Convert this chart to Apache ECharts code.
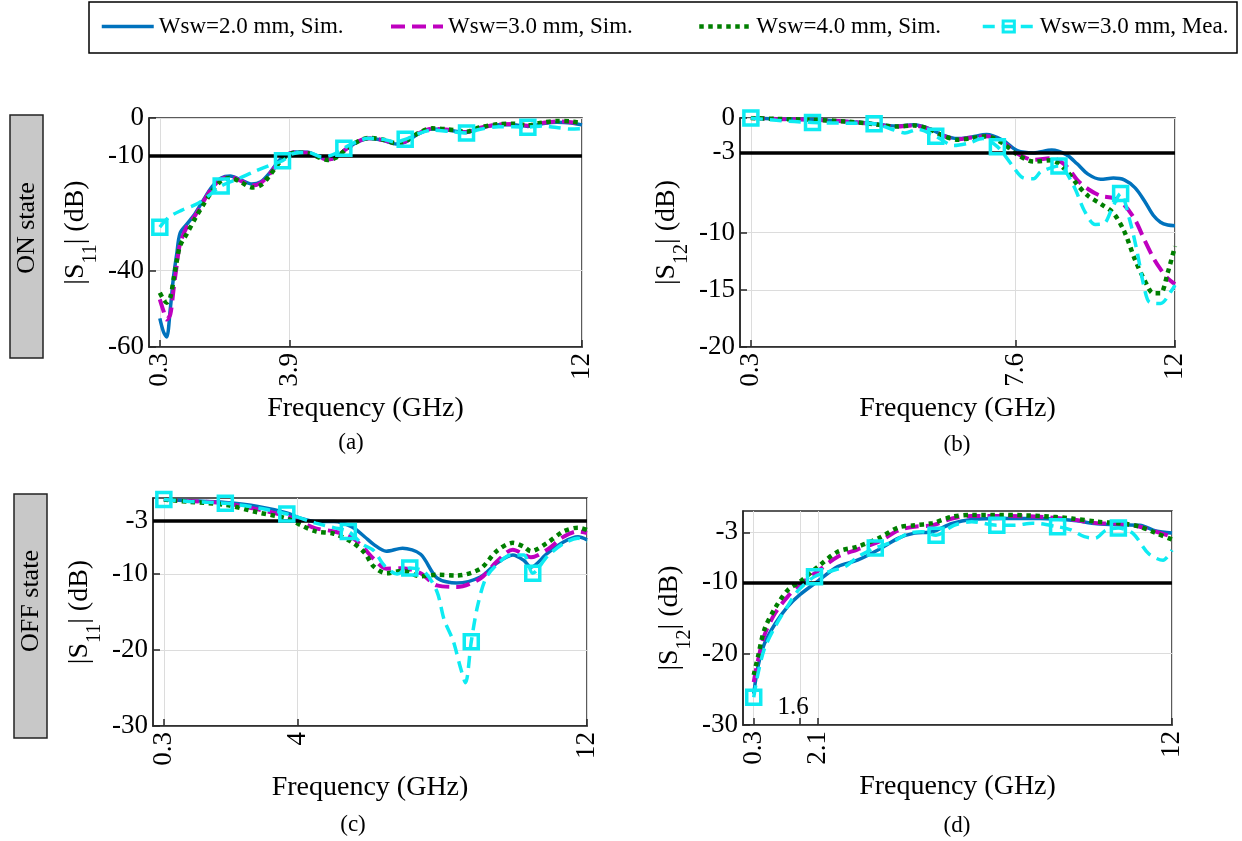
<!DOCTYPE html>
<html>
<head>
<meta charset="utf-8">
<script src="https://cdn.jsdelivr.net/npm/echarts@6/dist/echarts.min.js"></script>
<style>html,body{margin:0;padding:0;background:#fff}#c{width:1242px;height:841px}</style>
</head>
<body>
<div id="c"></div>
<script>
// ---------------- data ----------------
const SERIES_NAMES = ['Wsw=2.0 mm, Sim.', 'Wsw=3.0 mm, Sim.', 'Wsw=4.0 mm, Sim.', 'Wsw=3.0 mm, Mea.'];
const MARKER_FREQS = [0.3, 2.0, 3.7, 5.4, 7.1, 8.8, 10.5];
const X_RANGE = [0, 12];

// (a) ON state |S11|
const freqA = [0.3, 0.4, 0.49, 0.59, 0.68, 0.77, 0.86, 1.05, 1.28, 1.5, 1.75, 2.0, 2.25, 2.55, 2.85, 3.1, 3.35, 3.6, 3.8, 4.05, 4.4, 4.7, 4.95, 5.2, 5.45, 5.8, 6.1, 6.5, 6.85, 7.1, 7.5, 7.85, 8.3, 8.8, 9.15, 9.7, 10.1, 10.5, 10.9, 11.3, 11.7, 12.0];
const s11OnW2 = [-52.5, -56, -57.4, -50, -41.6, -35.5, -30.2, -27.8, -25, -21.6, -18, -15.7, -15.2, -16.2, -17.3, -16.7, -14.3, -11.2, -9.6, -8.9, -9.0, -10.1, -10.9, -10.2, -8.2, -6.2, -5.4, -5.9, -6.8, -6.3, -4.0, -2.9, -3.2, -3.8, -2.7, -1.8, -1.8, -2.2, -1.5, -1.1, -1.3, -1.8];
const s11OnW3 = [-47.5, -50.5, -52.8, -51.5, -45, -38.5, -33, -28.5, -25.5, -22, -18.3, -16, -15.4, -16.5, -17.7, -17, -14.6, -11.5, -9.8, -9.0, -9.1, -10.2, -10.9, -10.2, -8.2, -6.1, -5.3, -5.8, -6.7, -6.2, -3.9, -2.8, -3.1, -3.7, -2.6, -1.7, -1.6, -2.0, -1.3, -0.9, -1.1, -1.6];
const s11OnW4 = [-45.8, -47.5, -48.4, -47, -42.4, -37.5, -33.5, -30.3, -26.3, -22.8, -19.2, -16.5, -15.7, -16.8, -18.2, -17.6, -15, -11.8, -10, -9.1, -9.2, -10.3, -11.0, -10.3, -8.3, -6.1, -5.2, -5.7, -6.6, -6.1, -3.8, -2.7, -3.0, -3.6, -2.5, -1.6, -1.5, -1.9, -1.2, -0.8, -0.9, -1.4];
const freqAMea = [0.3, 0.55, 0.9, 1.35, 1.7, 2.0, 2.5, 2.95, 3.35, 3.7, 4.0, 4.4, 4.8, 5.1, 5.4, 5.8, 6.1, 6.5, 6.85, 7.1, 7.5, 7.85, 8.3, 8.8, 9.15, 9.7, 10.1, 10.5, 10.9, 11.3, 11.7, 12.0];
const s11OnMea = [-28.6, -26, -24.2, -22.4, -20, -17.8, -15.8, -13.9, -12.4, -11.2, -9.3, -9.0, -10.2, -9.6, -7.9, -6.0, -5.3, -5.6, -6.3, -5.6, -4.0, -3.2, -3.5, -3.9, -3.0, -2.3, -2.3, -2.4, -2.1, -2.5, -2.9, -2.8];
const xTicksA = [0.3, 3.9, 12];
const yTicksA = [-60, -40, -10, 0];
const yRangeA = [-60, 0];
const thrA = -10;

// (b) ON state |S12|
const freqB = [0.3, 1.0, 2.0, 2.9, 3.6, 4.3, 4.8, 5.2, 5.6, 6.0, 6.4, 6.8, 7.25, 7.65, 8.1, 8.6, 9.0, 9.3, 9.6, 9.95, 10.3, 10.6, 10.9, 11.15, 11.4, 11.6, 11.8, 12.0];
const s12OnW2 = [0, -0.08, -0.15, -0.3, -0.45, -0.7, -0.6, -0.9, -1.5, -1.8, -1.65, -1.45, -1.95, -2.85, -3.05, -2.8, -3.2, -4.0, -4.9, -5.35, -5.25, -5.4, -6.1, -7.2, -8.5, -9.1, -9.35, -9.4];
const s12OnW3 = [0, -0.08, -0.15, -0.3, -0.5, -0.75, -0.65, -0.95, -1.55, -1.85, -1.7, -1.6, -2.1, -3.1, -3.65, -3.5, -4.2, -5.4, -6.2, -6.8, -7.0, -7.6, -8.9, -10.6, -12.2, -13.2, -14.0, -14.5];
const s12OnW4 = [0, -0.08, -0.15, -0.3, -0.5, -0.75, -0.65, -0.95, -1.55, -1.9, -1.75, -1.6, -2.2, -3.2, -3.8, -3.7, -4.6, -5.8, -6.8, -7.5, -8.3, -9.9, -12.4, -14.1, -15.3, -15.3, -13.5, -11.2];
const freqBMea = [0.3, 1.0, 2.0, 2.9, 3.7, 4.2, 4.55, 4.9, 5.4, 5.9, 6.3, 6.7, 7.1, 7.5, 7.8, 8.1, 8.3, 8.8, 9.2, 9.5, 9.8, 10.05, 10.25, 10.5, 10.75, 10.95, 11.15, 11.3, 11.6, 11.9, 12.0];
const s12OnMea = [0, -0.2, -0.4, -0.45, -0.5, -1.0, -1.3, -1.0, -1.6, -2.4, -2.2, -1.8, -2.5, -4.1, -5.2, -5.3, -4.7, -4.2, -5.9, -8.1, -9.3, -9.2, -8.0, -6.6, -8.9, -11.6, -14.8, -16.1, -16.2, -15.1, -14.6];
const xTicksB = [0.3, 7.6, 12];
const yTicksB = [-20, -15, -10, -3, 0];
const yRangeB = [-20, 0];
const thrB = -3;

// (c) OFF state |S11|
const freqC = [0.3, 1.0, 2.0, 2.9, 3.7, 4.1, 4.5, 5.0, 5.5, 5.85, 6.1, 6.45, 6.9, 7.4, 7.85, 8.4, 9.05, 9.5, 9.95, 10.25, 10.45, 10.9, 11.35, 11.75, 12.0];
const s11OffW2 = [-0.2, -0.35, -0.6, -1.1, -1.95, -2.7, -3.1, -3.1, -3.8, -5.1, -6.1, -7.0, -6.6, -7.4, -10.5, -11.2, -10.4, -8.6, -7.5, -8.2, -9.1, -7.3, -5.8, -5.1, -5.5];
const s11OffW3 = [-0.2, -0.4, -0.7, -1.5, -2.4, -3.2, -4.0, -4.4, -5.2, -6.7, -8.0, -9.3, -9.25, -9.9, -11.5, -11.7, -10.6, -8.4, -6.8, -7.4, -7.8, -6.8, -5.1, -4.4, -4.6];
const s11OffW4 = [-0.2, -0.5, -0.9, -1.9, -2.7, -3.6, -4.4, -4.7, -5.8, -7.2, -9.0, -9.9, -9.6, -10.3, -10.1, -10.2, -9.3, -7.0, -5.9, -6.4, -7.0, -5.9, -4.4, -3.9, -4.2];
const freqCMea = [0.3, 1.0, 2.0, 2.9, 3.7, 4.5, 5.0, 5.4, 5.8, 6.1, 6.4, 6.75, 7.1, 7.5, 7.85, 8.05, 8.3, 8.5, 8.64, 8.8, 8.97, 9.2, 9.5, 9.9, 10.25, 10.5, 10.9, 11.35, 11.75, 12.0];
const s11OffMea = [-0.2, -0.45, -0.7, -1.3, -2.1, -3.3, -3.9, -4.4, -6.1, -6.9, -8.9, -10.0, -9.2, -9.7, -12.3, -16.0, -18.8, -22.3, -24.3, -18.9, -14.3, -10.6, -8.8, -7.5, -7.5, -9.9, -7.7, -6.0, -5.3, -5.7];
const xTicksC = [0.3, 4, 12];
const yTicksC = [-30, -20, -10, -3];
const yRangeC = [-30, 0];
const thrC = -3;

// (d) OFF state |S12|
const freqD = [0.3, 0.42, 0.6, 0.9, 1.25, 1.6, 2.1, 2.65, 3.2, 3.8, 4.35, 4.8, 5.3, 5.85, 6.4, 7.3, 8.3, 9.2, 9.9, 10.6, 11.1, 11.55, 12.0];
const s12OffW2 = [-25.6, -21.8, -18.6, -15.8, -13.4, -11.7, -9.8, -7.8, -6.9, -5.4, -3.8, -3.1, -2.9, -1.75, -1.2, -1.05, -1.05, -1.3, -1.8, -1.95, -2.0, -2.8, -3.1];
const s12OffW3 = [-24.0, -20.9, -17.4, -14.3, -12.0, -10.3, -8.4, -6.4, -5.4, -4.3, -2.7, -2.2, -2.0, -1.05, -0.7, -0.7, -0.8, -1.2, -1.7, -1.8, -2.2, -2.9, -3.6];
const s12OffW4 = [-23.0, -20.4, -16.6, -13.6, -11.1, -9.9, -7.8, -5.7, -5.0, -3.8, -2.3, -2.0, -1.7, -0.8, -0.55, -0.55, -0.7, -1.05, -1.5, -1.75, -2.2, -3.1, -4.0];
const freqDMea = [0.3, 0.42, 0.6, 0.9, 1.25, 1.55, 2.0, 2.4, 2.85, 3.25, 3.7, 4.2, 4.6, 5.0, 5.4, 5.9, 6.4, 7.1, 7.6, 8.1, 8.8, 9.15, 9.55, 9.85, 10.15, 10.5, 10.9, 11.35, 11.75, 12.0];
const s12OffMea = [-26.1, -22.8, -19.3, -16.2, -13.3, -11.1, -9.2, -8.5, -7.8, -6.3, -5.2, -4.3, -3.2, -2.9, -3.4, -2.0, -1.5, -2.0, -2.0, -1.7, -2.2, -2.6, -3.6, -3.8, -2.7, -2.4, -3.1, -6.0, -6.9, -5.5];
const xTicksD = [0.3, 1.6, 2.1, 12];
const xLabelsD = [0.3, 2.1, 12];
const yTicksD = [-30, -20, -10, -3];
const yRangeD = [-30, 0];
const thrD = -10;
const annotD = { text: '1.6', at: [1.4, -27.5] };

// ---------------- style ----------------
const FONT = "'Liberation Serif', 'Times New Roman', serif";
const COLORS = ['#0072BD', '#BF00BF', '#007F00', '#0EEBF2'];
const WIDTHS = [3.5, 4, 4.5, 3.5];
const DASHES = ['solid', [14, 7], [4.5, 4.5], [12, 7]];
const AXIS_C = '#262626';
const GRID_C = '#dcdcdc';
const TXT_C = '#000';
const TICK_FS = 27;

const panels = [
  { grid: { left: 149, top: 118, width: 433, height: 229 }, freq: freqA, sims: [s11OnW2, s11OnW3, s11OnW4], mf: freqAMea, mea: s11OnMea,
    xTicks: xTicksA, xLabels: xTicksA, yTicks: yTicksA, yRange: yRangeA, thr: thrA, sub: '11' },
  { grid: { left: 740, top: 118, width: 435, height: 229 }, freq: freqB, sims: [s12OnW2, s12OnW3, s12OnW4], mf: freqBMea, mea: s12OnMea,
    xTicks: xTicksB, xLabels: xTicksB, yTicks: yTicksB, yRange: yRangeB, thr: thrB, sub: '12' },
  { grid: { left: 153, top: 498, width: 434, height: 228 }, freq: freqC, sims: [s11OffW2, s11OffW3, s11OffW4], mf: freqCMea, mea: s11OffMea,
    xTicks: xTicksC, xLabels: xTicksC, yTicks: yTicksC, yRange: yRangeC, thr: thrC, sub: '11' },
  { grid: { left: 743, top: 511, width: 429, height: 214 }, freq: freqD, sims: [s12OffW2, s12OffW3, s12OffW4], mf: freqDMea, mea: s12OffMea,
    xTicks: xTicksD, xLabels: xLabelsD, yTicks: yTicksD, yRange: yRangeD, thr: thrD, sub: '12', annot: annotD }
];

const grids = panels.map(p => Object.assign({ show: true, borderColor: AXIS_C, borderWidth: 1.5, backgroundColor: 'rgba(0,0,0,0)', containLabel: false, outerBoundsMode: 'none' }, p.grid));

const xAxes = panels.map((p, i) => ({
  gridIndex: i, type: 'value', min: X_RANGE[0], max: X_RANGE[1],
  axisLine: { show: true, onZero: false, lineStyle: { color: AXIS_C, width: 1.5 } },
  axisTick: { show: true, inside: true, length: 7, customValues: p.xTicks, lineStyle: { color: AXIS_C, width: 1.5 } },
  axisLabel: { show: true, customValues: p.xLabels, rotate: 90, margin: 6, fontFamily: FONT, fontSize: TICK_FS, color: TXT_C, hideOverlap: false, formatter: v => String(v) },
  splitLine: { show: true, lineStyle: { color: GRID_C, width: 1 } },
  minorTick: { show: false }, minorSplitLine: { show: false },
  name: 'Frequency (GHz)', nameLocation: 'middle', nameGap: 48,
  nameTextStyle: { fontFamily: FONT, fontSize: 28, color: TXT_C }
}));

const yAxes = panels.map((p, i) => ({
  gridIndex: i, type: 'value', min: p.yRange[0], max: p.yRange[1],
  axisLine: { show: true, onZero: false, lineStyle: { color: AXIS_C, width: 1.5 } },
  axisTick: { show: true, inside: true, length: 7, customValues: p.yTicks, lineStyle: { color: AXIS_C, width: 1.5 } },
  axisLabel: { show: true, customValues: p.yTicks, margin: 5, fontFamily: FONT, fontSize: TICK_FS, color: TXT_C, hideOverlap: false, formatter: v => String(v) },
  splitLine: { show: true, lineStyle: { color: GRID_C, width: 1 } },
  minorTick: { show: false }, minorSplitLine: { show: false },
  name: '{m||S}{s|' + p.sub + '}{m|| (dB)}', nameLocation: 'middle', nameRotate: 90, nameGap: 53,
  nameTextStyle: {
    fontFamily: FONT, fontSize: 28, color: TXT_C,
    rich: {
      m: { fontFamily: FONT, fontSize: 28, color: TXT_C, lineHeight: 34, verticalAlign: 'top' },
      s: { fontFamily: FONT, fontSize: 20, color: TXT_C, lineHeight: 20, verticalAlign: 'top', padding: [19, 0, 0, 0] }
    }
  }
}));

function pairs(fs, vs) { return fs.map((f, k) => [f, vs[k]]); }
function meaPairs(fs, vs) {
  return fs.map((f, k) => MARKER_FREQS.indexOf(f) >= 0 ? { value: [f, vs[k]] } : { value: [f, vs[k]], symbol: 'none' });
}

const series = [];
panels.forEach((p, i) => {
  p.sims.forEach((vals, s) => {
    const ser = {
      type: 'line', name: SERIES_NAMES[s], xAxisIndex: i, yAxisIndex: i,
      data: pairs(p.freq, vals), symbol: 'none', showSymbol: false, smooth: 0.3,
      lineStyle: { color: COLORS[s], width: WIDTHS[s], type: DASHES[s], cap: 'butt' },
      itemStyle: { color: COLORS[s] }, z: 2 + s, animation: false, silent: true
    };
    if (s === 0) {
      ser.markLine = {
        silent: true, symbol: ['none', 'none'], label: { show: false }, animation: false,
        lineStyle: { color: '#000', width: 3.5, type: 'solid' },
        emphasis: { disabled: true },
        data: [{ yAxis: p.thr }]
      };
    }
    if (s === 2 && p.annot) {
      ser.markPoint = {
        silent: true, animation: false, symbol: 'circle', symbolSize: 1,
        itemStyle: { color: 'rgba(0,0,0,0)' },
        label: { show: true, position: 'inside', formatter: p.annot.text, fontFamily: FONT, fontSize: 25, color: TXT_C },
        data: [{ coord: p.annot.at }]
      };
    }
    series.push(ser);
  });
  series.push({
    type: 'line', name: SERIES_NAMES[3], xAxisIndex: i, yAxisIndex: i,
    data: meaPairs(p.mf, p.mea), symbol: 'rect', symbolSize: 14, showSymbol: true, showAllSymbol: true, smooth: 0.3,
    lineStyle: { color: COLORS[3], width: WIDTHS[3], type: DASHES[3], cap: 'butt' },
    itemStyle: { color: 'rgba(255,255,255,0)', borderColor: COLORS[3], borderWidth: 3.5 },
    z: 6, animation: false, silent: true
  });
});

const LEG_LEFT = [100, 389, 697, 981];
const legends = SERIES_NAMES.map((n, k) => ({
  data: [n], left: LEG_LEFT[k], top: 15, padding: 0, orient: 'horizontal',
  itemWidth: 52, itemHeight: 14, selectedMode: false,
  textStyle: { fontFamily: FONT, fontSize: 23, color: TXT_C },
  lineStyle: { color: COLORS[k], width: WIDTHS[k], type: DASHES[k], opacity: 1 },
  itemStyle: k === 3 ? { color: 'rgba(255,255,255,0)', borderColor: COLORS[3], borderWidth: 3 } : { color: COLORS[k], opacity: 0 },
  z: 10
}));

const graphics = [
  { type: 'rect', shape: { x: 89, y: 2, width: 1148, height: 51 }, style: { fill: '#fff', stroke: '#000', lineWidth: 1.5 }, z: 0 },
  { type: 'rect', shape: { x: 10, y: 115, width: 33, height: 243 }, style: { fill: '#c8c8c8', stroke: '#222', lineWidth: 1.5 }, z: 0 },
  { type: 'text', x: 27, y: 228, rotation: Math.PI / 2, style: { text: 'ON state', fontFamily: FONT, fontSize: 26, fill: TXT_C, align: 'center', verticalAlign: 'middle' }, z: 1 },
  { type: 'rect', shape: { x: 14, y: 494, width: 33, height: 244 }, style: { fill: '#c8c8c8', stroke: '#222', lineWidth: 1.5 }, z: 0 },
  { type: 'text', x: 31, y: 601, rotation: Math.PI / 2, style: { text: 'OFF state', fontFamily: FONT, fontSize: 26, fill: TXT_C, align: 'center', verticalAlign: 'middle' }, z: 1 },
  { type: 'text', x: 351, y: 443, style: { text: '(a)', fontFamily: FONT, fontSize: 23, fill: TXT_C, align: 'center', verticalAlign: 'middle' } },
  { type: 'text', x: 957, y: 445, style: { text: '(b)', fontFamily: FONT, fontSize: 23, fill: TXT_C, align: 'center', verticalAlign: 'middle' } },
  { type: 'text', x: 353, y: 825, style: { text: '(c)', fontFamily: FONT, fontSize: 23, fill: TXT_C, align: 'center', verticalAlign: 'middle' } },
  { type: 'text', x: 957, y: 826, style: { text: '(d)', fontFamily: FONT, fontSize: 23, fill: TXT_C, align: 'center', verticalAlign: 'middle' } }
];

const chart = echarts.init(document.getElementById('c'), null, { renderer: 'canvas', width: 1242, height: 841 });
chart.setOption({
  backgroundColor: '#fff',
  animation: false,
  textStyle: { fontFamily: FONT },
  grid: grids,
  xAxis: xAxes,
  yAxis: yAxes,
  legend: legends,
  graphic: graphics,
  series: series
});
</script>
</body>
</html>
